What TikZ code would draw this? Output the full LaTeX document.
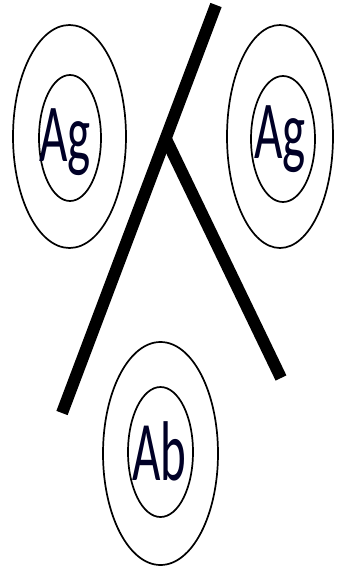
\documentclass[tikz,border=0pt]{standalone}
\usepackage{fontspec}
\setmainfont{Carlito}
\usetikzlibrary{shapes.geometric}
\begin{document}
\begin{tikzpicture}[x=1pt,y=-1pt,
  ring/.style={draw=black, line width=1.7pt, ellipse, inner sep=0pt},
  lbl/.style={inner sep=0pt, anchor=base west, font=\fontsize{49}{49}\selectfont, text=black!85!blue},
  arm/.style={line width=12pt, line cap=butt}]
\useasboundingbox (0,0) rectangle (339,567);
% left antigen
\node[ring, minimum width=113pt, minimum height=223pt] (Lo) at (69.5,136.5) {};
\node[ring, minimum width=62pt, minimum height=126pt] (Li) at (70,138) {};
\node[lbl] (Lt) at (39,161) {\scalebox{1}[1.68]{Ag}};
% right antigen
\node[ring, minimum width=106pt, minimum height=223pt] (Ro) at (280,136.5) {};
\node[ring, minimum width=64pt, minimum height=126pt] (Ri) at (283,139) {};
\node[lbl] (Rt) at (254,158) {\scalebox{1}[1.68]{Ag}};
% bottom antibody
\node[ring, minimum width=115pt, minimum height=223pt] (Bo) at (160.5,453.5) {};
\node[ring, minimum width=65pt, minimum height=130pt] (Bi) at (160.5,452) {};
\node[lbl] (Bt) at (132,480) {\scalebox{1}[1.73]{Ab}};
% Y shape
\coordinate (top) at (216,5);
\coordinate (bl) at (62,413);
\coordinate (j) at (165,137);
\coordinate (br) at (281,378);
\draw[arm] (top) -- (bl);
\draw[arm] (j) -- (br);
\end{tikzpicture}
\end{document}
